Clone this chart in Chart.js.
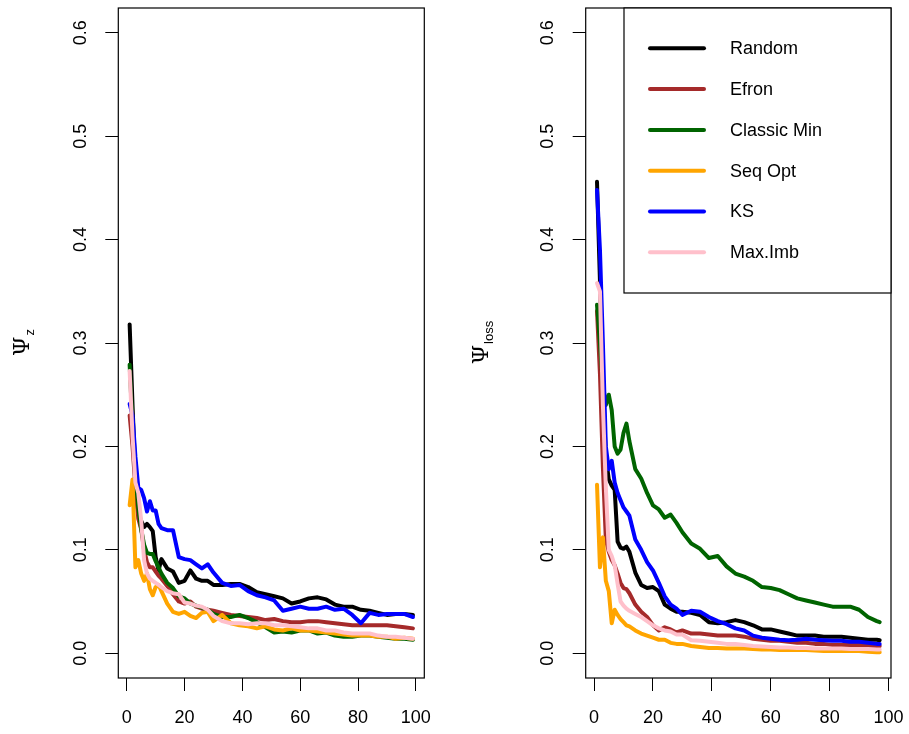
<!DOCTYPE html>
<html>
<head>
<meta charset="utf-8">
<script src="https://cdn.jsdelivr.net/npm/chart.js@4.4.0/dist/chart.umd.min.js"></script>
<style>
  html, body { margin: 0; padding: 0; background: #fff; }
  #wrap { position: relative; width: 909px; height: 734px; }
  canvas { position: absolute; top: 0; }
</style>
</head>
<body>
<div id="wrap">
  <canvas id="chartZ" width="454" height="734" style="left:0"></canvas>
  <canvas id="chartLoss" width="455" height="734" style="left:454px"></canvas>
</div>
<script>
const seriesNames = ['Random', 'Efron', 'Classic Min', 'Seq Opt', 'KS', 'Max.Imb'];
const seriesColors = ['#000000', '#A52A2A', '#006400', '#FFA500', '#0000FF', '#FFC0CB'];
const xTicks = [0, 20, 40, 60, 80, 100];
const yTicks = [0, 0.1, 0.2, 0.3, 0.4, 0.5, 0.6];

// left panel: Psi_z
const stepsZ = [1,2,3,4,5,6,7,8,9,10,11,12,14,16,18,20,22,24,26,28,30,33,36,39,42,45,48,51,54,57,60,63,66,69,72,75,78,81,84,87,90,93,96,99];
const zRandom = [0.318,0.24,0.17,0.135,0.128,0.122,0.125,0.122,0.118,0.093,0.080,0.091,0.082,0.079,0.068,0.070,0.080,0.072,0.070,0.070,0.066,0.066,0.067,0.067,0.064,0.059,0.057,0.055,0.053,0.048,0.050,0.053,0.054,0.052,0.047,0.045,0.045,0.042,0.041,0.039,0.037,0.038,0.038,0.037];
const zEfron = [0.230,0.200,0.160,0.130,0.120,0.100,0.088,0.083,0.083,0.079,0.075,0.072,0.065,0.057,0.050,0.048,0.050,0.045,0.043,0.042,0.041,0.039,0.037,0.036,0.035,0.034,0.032,0.033,0.031,0.030,0.030,0.031,0.031,0.030,0.029,0.028,0.027,0.027,0.027,0.027,0.027,0.026,0.025,0.024];
const zClassicMin = [0.279,0.220,0.170,0.140,0.120,0.105,0.097,0.096,0.096,0.089,0.083,0.077,0.068,0.063,0.055,0.053,0.048,0.046,0.044,0.042,0.038,0.035,0.035,0.037,0.034,0.030,0.025,0.020,0.021,0.020,0.022,0.022,0.019,0.020,0.017,0.016,0.016,0.017,0.017,0.016,0.015,0.014,0.014,0.013];
const zSeqOpt = [0.143,0.168,0.083,0.090,0.077,0.070,0.077,0.062,0.056,0.064,0.066,0.060,0.048,0.040,0.038,0.040,0.036,0.034,0.039,0.040,0.031,0.037,0.029,0.027,0.026,0.024,0.026,0.023,0.022,0.024,0.022,0.022,0.021,0.020,0.019,0.018,0.017,0.017,0.017,0.016,0.016,0.014,0.015,0.014];
const zKS = [0.241,0.230,0.190,0.160,0.158,0.150,0.137,0.147,0.138,0.138,0.125,0.121,0.119,0.119,0.093,0.091,0.090,0.086,0.082,0.086,0.078,0.068,0.065,0.066,0.060,0.056,0.054,0.051,0.041,0.043,0.045,0.043,0.043,0.045,0.042,0.043,0.037,0.029,0.039,0.037,0.038,0.038,0.038,0.035];
const zMaxImb = [0.273,0.210,0.165,0.155,0.128,0.090,0.077,0.072,0.070,0.068,0.066,0.064,0.060,0.058,0.057,0.049,0.048,0.046,0.045,0.042,0.036,0.031,0.029,0.029,0.028,0.029,0.029,0.027,0.027,0.026,0.025,0.024,0.024,0.022,0.022,0.020,0.019,0.019,0.019,0.017,0.016,0.016,0.015,0.014];

// right panel: Psi_loss
const stepsLoss = [1,2,3,4,5,6,7,8,9,10,11,12,14,16,18,20,22,24,26,28,30,33,36,39,42,45,48,51,54,57,60,63,66,69,72,75,78,81,84,87,90,93,96,97];
const lossRandom = [0.456,0.360,0.260,0.190,0.168,0.162,0.158,0.108,0.102,0.101,0.103,0.098,0.078,0.066,0.063,0.064,0.060,0.047,0.043,0.040,0.040,0.039,0.037,0.030,0.029,0.030,0.032,0.030,0.027,0.023,0.023,0.021,0.019,0.017,0.017,0.017,0.016,0.016,0.016,0.015,0.014,0.013,0.013,0.0125];
const lossEfron = [0.331,0.270,0.180,0.110,0.098,0.090,0.085,0.077,0.068,0.063,0.062,0.058,0.047,0.040,0.035,0.027,0.022,0.025,0.023,0.020,0.022,0.019,0.019,0.018,0.017,0.017,0.017,0.016,0.014,0.013,0.012,0.012,0.011,0.010,0.010,0.009,0.009,0.008,0.008,0.008,0.008,0.007,0.007,0.007];
const lossClassicMin = [0.337,0.300,0.260,0.240,0.250,0.235,0.200,0.193,0.197,0.213,0.222,0.205,0.178,0.169,0.155,0.143,0.139,0.131,0.134,0.126,0.117,0.106,0.101,0.092,0.094,0.084,0.077,0.074,0.070,0.064,0.063,0.061,0.057,0.053,0.051,0.049,0.047,0.045,0.045,0.045,0.042,0.035,0.031,0.030];
const lossSeqOpt = [0.163,0.083,0.112,0.070,0.060,0.029,0.042,0.037,0.033,0.030,0.027,0.026,0.022,0.019,0.017,0.015,0.013,0.013,0.010,0.009,0.009,0.007,0.006,0.005,0.005,0.0045,0.0045,0.0045,0.004,0.0035,0.0035,0.003,0.003,0.003,0.003,0.0025,0.002,0.002,0.002,0.002,0.002,0.0015,0.001,0.001];
const lossKS = [0.448,0.390,0.300,0.200,0.178,0.186,0.165,0.155,0.148,0.141,0.137,0.133,0.110,0.100,0.088,0.080,0.068,0.055,0.047,0.043,0.037,0.041,0.040,0.035,0.031,0.028,0.024,0.022,0.017,0.015,0.014,0.013,0.0125,0.013,0.014,0.013,0.0125,0.012,0.012,0.011,0.011,0.010,0.009,0.009];
const lossMaxImb = [0.358,0.350,0.240,0.160,0.100,0.094,0.085,0.067,0.050,0.046,0.043,0.041,0.038,0.035,0.031,0.027,0.024,0.022,0.021,0.018,0.018,0.0125,0.012,0.011,0.010,0.009,0.009,0.008,0.007,0.0065,0.006,0.0055,0.0055,0.005,0.005,0.0045,0.0045,0.0045,0.0045,0.004,0.004,0.004,0.0035,0.0035];

const fontFamily = '"Liberation Sans", Arial, Helvetica, sans-serif';

function makeDatasets(steps, cols) {
  return cols.map((vals, i) => ({
    label: seriesNames[i],
    data: vals.map((v, j) => ({ x: steps[j], y: v })),
    borderColor: seriesColors[i],
    backgroundColor: seriesColors[i],
    borderWidth: 4,
    borderCapStyle: 'round',
    borderJoinStyle: 'round',
    pointRadius: 0,
    tension: 0,
    fill: false,
    order: cols.length - i   // later series drawn on top, as in R
  }));
}

// box round the plot region + the Psi axis title
const framePlugin = {
  id: 'frame',
  afterDatasetsDraw(chart, args, opts) {
    const { ctx, chartArea: a } = chart;
    ctx.save();
    ctx.strokeStyle = '#000';
    ctx.lineWidth = 1.2;
    ctx.strokeRect(a.left, a.top, a.right - a.left, a.bottom - a.top);

    // y title: Psi with subscript, rotated
    ctx.translate(opts.titleX, (a.top + a.bottom) / 2);
    ctx.rotate(-Math.PI / 2);
    ctx.fillStyle = '#000';
    ctx.textBaseline = 'middle';
    ctx.textAlign = 'left';
    const bigFont = '22px "DejaVu Serif", "Liberation Serif", serif';
    const subFont = '13px ' + fontFamily;
    ctx.font = bigFont;
    const wBig = ctx.measureText('\u03A8').width;
    ctx.font = subFont;
    const wSub = ctx.measureText(opts.sub).width;
    const x0 = -(wBig + wSub) / 2;
    ctx.font = bigFont;
    ctx.fillText('\u03A8', x0, 0);
    ctx.font = subFont;
    ctx.fillText(opts.sub, x0 + wBig + 1, 7);
    ctx.restore();
  }
};

// legend box in the top right corner of the plot region
const boxLegendPlugin = {
  id: 'boxLegend',
  afterDraw(chart, args, opts) {
    if (!opts.show) return;
    const { ctx, chartArea: a } = chart;
    const w = 267, h = 285;
    const left = a.right - w, top = a.top;
    ctx.save();
    ctx.fillStyle = '#fff';
    ctx.fillRect(left, top, w, h);
    ctx.strokeStyle = '#000';
    ctx.lineWidth = 1.2;
    ctx.strokeRect(left, top, w, h);
    ctx.font = '18px ' + fontFamily;
    ctx.textBaseline = 'middle';
    ctx.textAlign = 'left';
    chart.data.datasets.forEach((ds, i) => {
      const y = top + 40.3 + i * 40.8;
      ctx.strokeStyle = ds.borderColor;
      ctx.lineWidth = 4;
      ctx.lineCap = 'round';
      ctx.beginPath();
      ctx.moveTo(left + 26, y);
      ctx.lineTo(left + 80, y);
      ctx.stroke();
      ctx.fillStyle = '#000';
      ctx.fillText(ds.label, left + 106, y + 1);
    });
    ctx.restore();
  }
};

function makeChart(canvasId, steps, cols, cfg) {
  const spread = (steps[steps.length - 1] - steps[0]) * 0.04;
  const tickFont = { family: fontFamily, size: 18 };
  return new Chart(document.getElementById(canvasId), {
    type: 'line',
    data: { datasets: makeDatasets(steps, cols) },
    options: {
      responsive: false,
      animation: false,
      devicePixelRatio: 1,
      layout: { padding: { left: 0, right: cfg.padRight, top: 8, bottom: 0 } },
      plugins: {
        legend: { display: false },
        tooltip: { enabled: false },
        frame: { titleX: cfg.titleX, sub: cfg.sub },
        boxLegend: { show: cfg.legend }
      },
      scales: {
        x: {
          type: 'linear',
          min: steps[0] - spread,
          max: steps[steps.length - 1] + spread,
          afterBuildTicks: s => { s.ticks = xTicks.map(v => ({ value: v })); },
          afterFit: s => { s.height = 56; s.paddingLeft = 0; s.paddingRight = 0; },
          grid: { drawOnChartArea: false, tickLength: 13, color: '#000', lineWidth: 1 },
          border: { display: false },
          ticks: { font: tickFont, color: '#000', padding: 16, maxRotation: 0, autoSkip: false }
        },
        y: {
          type: 'linear',
          min: -0.024,
          max: 0.624,
          afterBuildTicks: s => { s.ticks = yTicks.map(v => ({ value: v })); },
          afterFit: s => { s.width = cfg.yWidth; s.paddingTop = 0; s.paddingBottom = 0; },
          grid: { drawOnChartArea: false, tickLength: 13, color: '#000', lineWidth: 1 },
          border: { display: false },
          ticks: {
            font: tickFont, color: '#000', padding: 12,
            minRotation: 90, maxRotation: 90, crossAlign: 'center',
            callback: v => v.toFixed(1)
          }
        }
      }
    },
    plugins: [framePlugin, boxLegendPlugin]
  });
}

makeChart('chartZ', stepsZ,
  [zRandom, zEfron, zClassicMin, zSeqOpt, zKS, zMaxImb],
  { yWidth: 118.3, padRight: 29.7, titleX: 23, sub: 'z', legend: false });

makeChart('chartLoss', stepsLoss,
  [lossRandom, lossEfron, lossClassicMin, lossSeqOpt, lossKS, lossMaxImb],
  { yWidth: 131.7, padRight: 18, titleX: 28, sub: 'loss', legend: true });
</script>
</body>
</html>
